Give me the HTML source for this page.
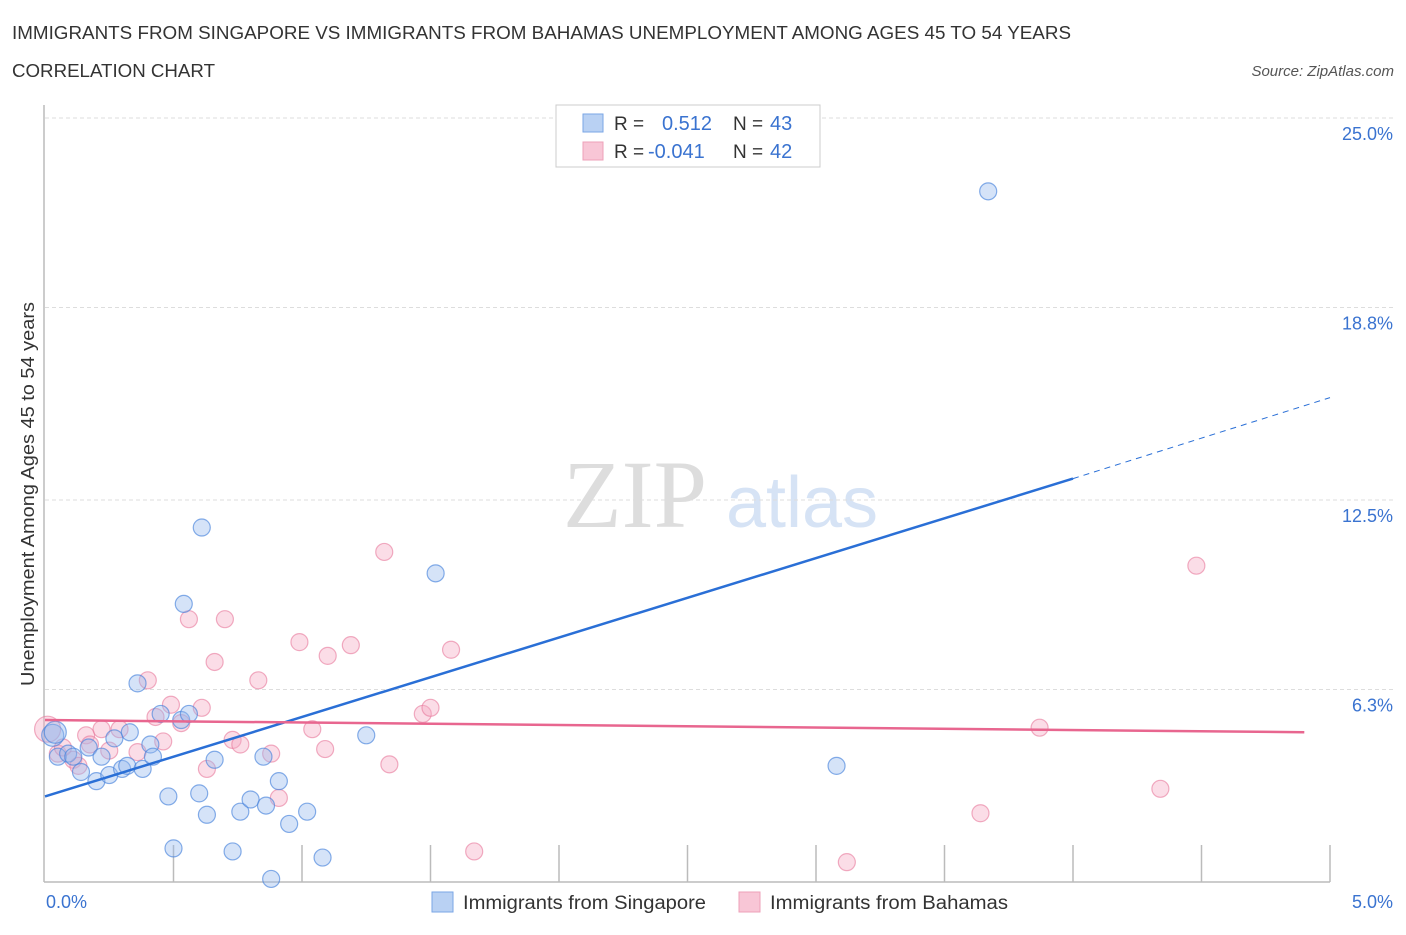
<!DOCTYPE html>
<html><head><meta charset="utf-8"><style>
body{margin:0;background:#fff;font-family:"Liberation Sans",sans-serif;}
svg text{font-family:"Liberation Sans",sans-serif;}
</style></head><body>
<svg width="1406" height="930" xmlns="http://www.w3.org/2000/svg">
<text x="12" y="39" font-size="18" fill="#333" textLength="1059" lengthAdjust="spacingAndGlyphs">IMMIGRANTS FROM SINGAPORE VS IMMIGRANTS FROM BAHAMAS UNEMPLOYMENT AMONG AGES 45 TO 54 YEARS</text>
<text x="12" y="77" font-size="18" fill="#333" textLength="203" lengthAdjust="spacingAndGlyphs">CORRELATION CHART</text>
<text x="1394" y="76" font-size="15" fill="#555" font-style="italic" text-anchor="end">Source: ZipAtlas.com</text>
<g>
<text x="635" y="527" font-size="96" fill="#ddd" text-anchor="middle" style="font-family:'Liberation Serif',serif">ZIP</text>
<text x="802" y="527" font-size="72" fill="#d6e3f5" text-anchor="middle">atlas</text>
</g>
<g id="grid"></g>
<line x1="44" y1="105" x2="44" y2="882" stroke="#bbb" stroke-width="1.5"/>
<line x1="44" y1="882" x2="1330" y2="882" stroke="#bbb" stroke-width="1.5"/>
<g id="xticks"></g>
<g id="pts"></g>
<g id="trends"></g>
<text x="34" y="494" font-size="18" fill="#333" text-anchor="middle" textLength="384" lengthAdjust="spacingAndGlyphs" transform="rotate(-90 34 494)">Unemployment Among Ages 45 to 54 years</text>
<text x="46" y="908" font-size="18" fill="#3a73d0">0.0%</text>
<text x="1393" y="908" font-size="18" fill="#3a73d0" text-anchor="end">5.0%</text>
<g>
<rect x="556" y="105" width="264" height="62" fill="#fff" stroke="#ccc"/>
<rect x="583" y="114" width="20" height="18" fill="#b9d1f3" stroke="#7aa6e6"/>
<rect x="583" y="142" width="20" height="18" fill="#f8c6d6" stroke="#eea0b8"/>
<text x="614" y="130" font-size="19" fill="#333">R =</text>
<text x="662" y="130" font-size="20" fill="#3a73d0">0.512</text>
<text x="733" y="130" font-size="19" fill="#333">N =</text>
<text x="770" y="130" font-size="20" fill="#3a73d0">43</text>
<text x="614" y="158" font-size="19" fill="#333">R =</text>
<text x="648" y="158" font-size="20" fill="#3a73d0">-0.041</text>
<text x="733" y="158" font-size="19" fill="#333">N =</text>
<text x="770" y="158" font-size="20" fill="#3a73d0">42</text>
</g>
<g>
<rect x="432" y="892" width="21" height="20" fill="#b9d1f3" stroke="#7aa6e6"/>
<text x="463" y="909" font-size="19" fill="#333" textLength="243" lengthAdjust="spacingAndGlyphs">Immigrants from Singapore</text>
<rect x="739" y="892" width="21" height="20" fill="#f8c6d6" stroke="#eea0b8"/>
<text x="770" y="909" font-size="19" fill="#333" textLength="238" lengthAdjust="spacingAndGlyphs">Immigrants from Bahamas</text>
</g>
</svg>
<script>
const yTicks=[6.3,12.5,18.8,25.0];
const yTickLabels=["6.3%","12.5%","18.8%","25.0%"];
const xTicks=[0.5,1,1.5,2,2.5,3,3.5,4,4.5,5];
const singX=[0.03,0.04,0.05,0.09,0.11,0.14,0.17,0.2,0.22,0.25,0.27,0.3,0.32,0.33,0.36,0.38,0.41,0.42,0.45,0.48,0.5,0.53,0.54,0.56,0.6,0.61,0.63,0.66,0.73,0.76,0.8,0.85,0.86,0.88,0.91,0.95,1.02,1.08,1.25,1.52,3.08,3.67];
const singY=[4.8,4.9,4.1,4.2,4.1,3.6,4.4,3.3,4.1,3.5,4.7,3.7,3.8,4.9,6.5,3.7,4.5,4.1,5.5,2.8,1.1,5.3,9.1,5.5,2.9,11.6,2.2,4.0,1.0,2.3,2.7,4.1,2.5,0.1,3.3,1.9,2.3,0.8,4.8,10.1,3.8,22.6];
const bahX=[0.01,0.05,0.11,0.13,0.16,0.22,0.25,0.29,0.36,0.40,0.43,0.46,0.49,0.56,0.61,0.63,0.66,0.70,0.73,0.76,0.83,0.88,0.91,0.99,1.04,1.09,1.10,1.19,1.32,1.34,1.47,1.50,1.58,1.67,3.12,3.64,3.87,4.34,4.48,0.07,0.175,0.53];
const bahY=[5.0,4.2,4.0,3.8,4.8,5.0,4.3,5.0,4.25,6.6,5.4,4.6,5.8,8.6,5.7,3.7,7.2,8.6,4.65,4.5,6.6,4.2,2.75,7.85,5.0,4.35,7.4,7.75,10.8,3.85,5.5,5.7,7.6,1.0,0.65,2.25,5.05,3.05,10.35,4.4,4.5,5.2];
const blueTrend=[[0,2.8],[4,13.2],[5,15.85]];
const pinkTrend=[[0,5.3],[4.9,4.9]];
const NS="http://www.w3.org/2000/svg";
const X=v=>45+v*257, Y=v=>882-v*30.56;
function mk(t,a,p){const e=document.createElementNS(NS,t);for(const k in a)e.setAttribute(k,a[k]);p.appendChild(e);return e;}
const grid=document.getElementById('grid');
yTicks.forEach((v,i)=>{
 const l=mk('line',{x1:45,x2:1393,y1:Y(v),y2:Y(v),stroke:'#ddd','stroke-dasharray':'4,3'},grid);
 
 
 const t=mk('text',{x:1393,y:Y(v)+22,'font-size':18,fill:'#3a73d0','text-anchor':'end'},grid);
 t.textContent=yTickLabels[i];
 
 
});
const xt=document.getElementById('xticks');
xTicks.forEach(v=>{
 const l=mk('line',{x1:X(v),x2:X(v),y1:845,y2:882,stroke:'#bbb','stroke-width':1.5},xt);
 
 
});
const pts=document.getElementById('pts');
bahX.forEach((v,i)=>{
 const c=mk('circle',{cx:X(v),cy:Y(bahY[i]),r:i==0?13:8.5,fill:'rgba(246,170,195,0.4)',stroke:'rgba(232,120,155,0.6)','stroke-width':1.2},pts);
 
 
});
singX.forEach((v,i)=>{
 const c=mk('circle',{cx:X(v),cy:Y(singY[i]),r:i<2?11:8.5,fill:'rgba(150,186,238,0.4)',stroke:'rgba(70,130,220,0.65)','stroke-width':1.2},pts);
 
 
});
const tr=document.getElementById('trends');
let b=mk('line',{x1:X(blueTrend[0][0]),y1:Y(blueTrend[0][1]),x2:X(blueTrend[1][0]),y2:Y(blueTrend[1][1]),stroke:'#2a6fd6','stroke-width':2.5},tr);


let bd=mk('line',{x1:X(blueTrend[1][0]),y1:Y(blueTrend[1][1]),x2:X(blueTrend[2][0]),y2:Y(blueTrend[2][1]),stroke:'#2a6fd6','stroke-width':1,'stroke-dasharray':'6,5'},tr);


let p=mk('line',{x1:X(pinkTrend[0][0]),y1:Y(pinkTrend[0][1]),x2:X(pinkTrend[1][0]),y2:Y(pinkTrend[1][1]),stroke:'#e8668f','stroke-width':2.5},tr);


</script>
</body></html>
